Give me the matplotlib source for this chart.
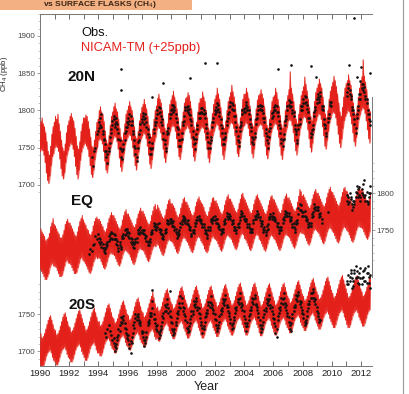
import numpy as np
import matplotlib
matplotlib.use('Agg')
import matplotlib.pyplot as plt
from matplotlib.patches import Rectangle
from matplotlib.lines import Line2D

nan = float('nan')

# ---------------- data (ppb) ----------------
model_start = 1990.0          # monthly values from Jan 1990
years_ticks = list(range(1990, 2013))

n20_hi = [1785,1790,1782,1778,1770,1758,1745,1740,1752,1768,1778,1784,
          1792,1788,1795,1782,1772,1760,1750,1745,1755,1770,1780,1786,
          1792,1796,1790,1786,1776,1765,1752,1748,1758,1772,1782,1790,
          1790,1794,1792,1785,1775,1764,1752,1750,1760,1772,1784,1788,
          1800,1805,1798,1795,1785,1772,1760,1755,1766,1780,1792,1798,
          1805,1810,1802,1798,1788,1776,1764,1760,1770,1782,1795,1800,
          1806,1812,1805,1800,1790,1778,1765,1762,1772,1786,1796,1804,
          1808,1815,1808,1802,1792,1780,1768,1764,1775,1788,1800,1806,
          1816,1822,1815,1810,1800,1788,1776,1772,1782,1796,1808,1814,
          1820,1826,1818,1812,1802,1790,1778,1775,1785,1798,1810,1816,
          1818,1824,1820,1812,1802,1790,1778,1774,1784,1798,1810,1816,
          1816,1825,1818,1812,1800,1790,1776,1772,1782,1796,1808,1815,
          1820,1830,1822,1815,1804,1792,1780,1776,1786,1800,1812,1818,
          1824,1834,1825,1818,1808,1795,1782,1778,1790,1802,1815,1822,
          1822,1830,1824,1816,1806,1794,1782,1778,1788,1802,1814,1820,
          1822,1828,1822,1816,1805,1792,1780,1776,1788,1800,1812,1818,
          1820,1830,1824,1815,1805,1793,1781,1776,1786,1800,1812,1820,
          1828,1852,1830,1822,1812,1800,1788,1782,1795,1808,1820,1826,
          1832,1845,1835,1826,1815,1804,1792,1786,1798,1812,1824,1830,
          1835,1842,1836,1830,1818,1806,1795,1790,1800,1815,1826,1832,
          1838,1846,1840,1832,1822,1810,1798,1792,1804,1818,1830,1836,
          1840,1848,1840,1834,1822,1810,1798,1794,1805,1818,1830,1838,
          1845,1868,1846,1838,1828,1815,1802,1798]
n20_lo = [1745,1748,1746,1740,1730,1716,1706,1702,1712,1726,1738,1742,
          1750,1752,1750,1745,1735,1722,1712,1708,1716,1730,1740,1746,
          1752,1756,1754,1748,1738,1725,1714,1708,1720,1733,1744,1750,
          1754,1756,1752,1748,1738,1726,1714,1710,1720,1734,1744,1750,
          1760,1762,1760,1755,1745,1732,1720,1716,1726,1740,1750,1756,
          1762,1766,1764,1758,1748,1736,1724,1718,1730,1742,1754,1760,
          1764,1768,1766,1760,1750,1738,1726,1720,1732,1744,1756,1762,
          1766,1770,1768,1762,1752,1740,1728,1722,1734,1746,1758,1764,
          1774,1778,1776,1770,1760,1748,1736,1730,1742,1754,1766,1772,
          1778,1780,1778,1772,1762,1750,1738,1734,1744,1756,1768,1774,
          1776,1780,1776,1770,1762,1750,1738,1732,1744,1756,1768,1772,
          1776,1778,1776,1770,1760,1748,1736,1730,1742,1756,1766,1772,
          1778,1782,1780,1774,1764,1752,1740,1734,1746,1758,1770,1776,
          1782,1784,1782,1776,1766,1754,1742,1738,1748,1762,1772,1778,
          1780,1784,1782,1776,1766,1754,1742,1736,1748,1760,1772,1778,
          1780,1782,1780,1775,1765,1752,1740,1735,1746,1760,1770,1776,
          1780,1783,1781,1774,1764,1752,1740,1734,1746,1760,1771,1777,
          1786,1788,1786,1780,1770,1758,1746,1740,1752,1766,1776,1782,
          1790,1792,1790,1784,1774,1762,1750,1744,1756,1770,1780,1786,
          1792,1796,1794,1788,1778,1766,1752,1748,1760,1772,1784,1790,
          1796,1798,1796,1790,1780,1768,1756,1750,1762,1776,1786,1792,
          1796,1800,1798,1792,1782,1770,1758,1752,1764,1776,1788,1794,
          1800,1804,1802,1796,1786,1774,1762,1756]

eq_hi = [1752,1748,1745,1742,1736,1738,1740,1746,1755,1760,1766,1758,
         1756,1752,1748,1745,1740,1740,1744,1750,1758,1762,1765,1760,
         1760,1756,1752,1748,1744,1742,1748,1755,1762,1766,1770,1764,
         1760,1757,1752,1750,1745,1744,1748,1756,1762,1766,1768,1765,
         1765,1762,1758,1755,1750,1748,1752,1760,1766,1770,1774,1770,
         1770,1766,1762,1758,1754,1752,1756,1764,1770,1775,1778,1772,
         1772,1768,1764,1760,1756,1754,1758,1766,1772,1776,1780,1775,
         1776,1772,1768,1764,1760,1758,1762,1770,1776,1782,1785,1778,
         1784,1780,1776,1772,1768,1766,1770,1778,1785,1790,1792,1786,
         1786,1783,1780,1775,1770,1768,1772,1780,1786,1792,1794,1788,
         1788,1784,1780,1776,1772,1770,1774,1782,1788,1792,1795,1790,
         1787,1785,1781,1775,1771,1769,1775,1781,1787,1793,1794,1789,
         1790,1786,1782,1778,1774,1772,1776,1784,1790,1795,1798,1792,
         1792,1788,1784,1780,1776,1774,1778,1786,1792,1798,1800,1794,
         1791,1787,1783,1779,1775,1773,1777,1785,1791,1796,1798,1793,
         1790,1786,1782,1778,1774,1772,1776,1784,1790,1795,1797,1792,
         1791,1787,1783,1779,1775,1773,1777,1785,1792,1796,1799,1793,
         1794,1790,1786,1782,1778,1776,1780,1788,1796,1805,1802,1796,
         1798,1794,1790,1786,1782,1780,1784,1792,1798,1802,1805,1800,
         1800,1796,1792,1788,1784,1782,1786,1794,1800,1805,1808,1802,
         1801,1797,1793,1789,1785,1783,1787,1795,1801,1806,1808,1803,
         1802,1798,1794,1790,1786,1784,1788,1796,1802,1806,1809,1804,
         1806,1802,1798,1794,1790,1788,1792,1800]
eq_lo = [1698,1695,1692,1688,1684,1684,1688,1692,1700,1704,1706,1702,
         1702,1700,1696,1692,1688,1688,1690,1696,1702,1708,1710,1706,
         1706,1704,1700,1696,1692,1692,1694,1700,1706,1712,1714,1710,
         1708,1705,1702,1698,1694,1692,1696,1702,1708,1712,1715,1712,
         1714,1712,1708,1704,1700,1698,1702,1708,1714,1718,1720,1718,
         1718,1716,1712,1708,1704,1702,1706,1712,1718,1722,1724,1722,
         1720,1718,1714,1710,1706,1704,1708,1714,1720,1724,1726,1724,
         1724,1722,1718,1714,1710,1708,1712,1718,1724,1728,1730,1728,
         1732,1730,1726,1722,1718,1716,1720,1726,1732,1736,1738,1736,
         1735,1733,1729,1725,1721,1719,1723,1729,1735,1739,1741,1739,
         1736,1734,1730,1726,1722,1720,1724,1730,1736,1740,1742,1740,
         1736,1733,1730,1725,1722,1720,1723,1730,1735,1740,1742,1739,
         1738,1736,1732,1728,1724,1722,1726,1732,1738,1742,1744,1742,
         1740,1738,1734,1730,1726,1724,1728,1734,1740,1744,1746,1744,
         1739,1737,1733,1729,1725,1723,1727,1733,1739,1743,1745,1743,
         1738,1736,1732,1728,1724,1722,1726,1732,1738,1742,1744,1742,
         1739,1737,1733,1729,1725,1723,1727,1733,1739,1743,1745,1743,
         1742,1740,1736,1732,1728,1726,1730,1736,1742,1746,1748,1746,
         1746,1744,1740,1736,1732,1730,1734,1740,1746,1750,1752,1750,
         1748,1746,1742,1738,1734,1732,1736,1742,1748,1752,1754,1752,
         1749,1747,1743,1739,1735,1733,1737,1743,1749,1753,1755,1753,
         1750,1748,1744,1740,1736,1734,1738,1744,1750,1754,1756,1754,
         1754,1752,1748,1744,1740,1738,1742,1748]

s20_hi = [1724,1718,1720,1724,1730,1736,1742,1746,1748,1742,1736,1730,
          1728,1722,1724,1728,1734,1740,1746,1750,1752,1746,1740,1734,
          1732,1726,1728,1732,1738,1744,1750,1754,1756,1750,1744,1738,
          1734,1728,1730,1734,1740,1746,1752,1756,1758,1752,1746,1740,
          1740,1734,1736,1740,1746,1752,1758,1762,1764,1758,1752,1746,
          1744,1738,1740,1744,1750,1756,1762,1766,1768,1762,1756,1750,
          1748,1742,1744,1748,1754,1760,1766,1770,1772,1766,1760,1754,
          1752,1746,1748,1752,1758,1764,1770,1774,1780,1772,1764,1758,
          1760,1754,1756,1760,1766,1772,1778,1782,1784,1778,1772,1766,
          1763,1757,1759,1763,1769,1775,1781,1785,1787,1781,1775,1769,
          1764,1758,1760,1764,1770,1776,1782,1786,1788,1782,1776,1770,
          1764,1758,1760,1764,1770,1776,1782,1786,1788,1782,1776,1770,
          1766,1760,1762,1766,1772,1778,1784,1788,1790,1784,1778,1772,
          1768,1762,1764,1768,1774,1780,1786,1790,1792,1786,1780,1774,
          1768,1762,1764,1768,1774,1780,1786,1790,1792,1786,1780,1774,
          1767,1761,1763,1767,1773,1779,1785,1789,1791,1785,1779,1773,
          1768,1762,1764,1768,1774,1780,1786,1790,1792,1786,1780,1774,
          1771,1765,1767,1771,1777,1783,1789,1793,1795,1789,1783,1777,
          1774,1768,1770,1774,1780,1786,1792,1796,1798,1792,1786,1780,
          1776,1770,1772,1776,1782,1788,1794,1798,1800,1794,1788,1782,
          1778,1772,1774,1778,1784,1790,1796,1800,1802,1796,1790,1784,
          1778,1772,1774,1778,1784,1790,1796,1800,1802,1796,1790,1784,
          1780,1774,1776,1780,1786,1792,1798,1802]
s20_lo = [1682,1678,1678,1682,1688,1694,1698,1700,1702,1698,1692,1688,
          1686,1682,1682,1686,1692,1698,1702,1704,1706,1702,1696,1692,
          1690,1686,1686,1690,1696,1702,1706,1708,1710,1706,1700,1696,
          1692,1688,1688,1692,1698,1704,1708,1710,1712,1708,1702,1698,
          1698,1694,1694,1698,1704,1710,1714,1716,1718,1714,1708,1704,
          1702,1698,1698,1702,1708,1714,1718,1720,1722,1718,1712,1708,
          1706,1702,1702,1706,1712,1718,1722,1724,1726,1722,1716,1712,
          1710,1706,1706,1710,1716,1722,1726,1728,1730,1726,1720,1716,
          1718,1714,1714,1718,1724,1730,1734,1736,1738,1734,1728,1724,
          1721,1717,1717,1721,1727,1733,1737,1739,1741,1737,1731,1727,
          1722,1718,1718,1722,1728,1734,1738,1740,1742,1738,1732,1728,
          1722,1718,1718,1722,1728,1734,1738,1740,1742,1738,1732,1728,
          1724,1720,1720,1724,1730,1736,1740,1742,1744,1740,1734,1730,
          1726,1722,1722,1726,1732,1738,1742,1744,1746,1742,1736,1732,
          1726,1722,1722,1726,1732,1738,1742,1744,1746,1742,1736,1732,
          1725,1721,1721,1725,1731,1737,1741,1743,1745,1741,1735,1731,
          1726,1722,1722,1726,1732,1738,1742,1744,1746,1742,1736,1732,
          1729,1725,1725,1729,1735,1741,1745,1747,1749,1745,1739,1735,
          1732,1728,1728,1732,1738,1744,1748,1750,1752,1748,1742,1738,
          1734,1730,1730,1734,1740,1746,1750,1752,1754,1750,1744,1740,
          1736,1732,1732,1736,1742,1748,1752,1754,1756,1752,1746,1742,
          1736,1732,1732,1736,1742,1748,1752,1754,1756,1752,1746,1742,
          1738,1734,1734,1738,1744,1750,1754,1756]

# observations: monthly values (two sets of stations per band)
obs_n20_start = 1993.5   # Jul 1993
obs_n20 = [1738,1725,1745,1750,1768,1772,
           1776,1790,1778,1772,1760,1755,1745,1730,1750,1756,1775,1780,
           1788,1782,1790,1775,1770,1750,1748,1735,1755,1760,1778,1785,
           1790,1786,1792,1780,1768,1760,1742,1738,1750,1768,1774,1788,
           1792,1788,1795,1778,1775,1758,1750,1742,1756,1770,1780,1790,
           1800,1796,1804,1792,1780,1770,1755,1750,1768,1776,1790,1795,
           1802,1808,1800,1790,1785,1768,1760,1752,1770,1780,1792,1800,
           1800,1806,1795,1794,1780,1772,1755,1756,1762,1780,1790,1796,
           1798,1804,1795,1790,1782,1765,1758,1750,1765,1778,1785,1795,
           1805,1800,1808,1792,1788,1770,1762,1755,1770,1780,1795,1798,
           1806,1810,1800,1800,1785,1778,1760,1758,1772,1785,1795,1802,
           1804,1808,1800,1795,1788,1772,1765,1755,1770,1782,1795,1800,
           1802,1806,1800,1796,1784,1775,1760,1756,1765,1782,1790,1798,
           1805,1800,1806,1792,1786,1770,1762,1752,1768,1780,1792,1800,
           1808,1812,1806,1800,1792,1780,1768,1760,1775,1788,1800,1806,
           1815,1810,1818,1802,1798,1785,1770,1768,1780,1792,1805,1810,
           1818,1815,1820,1806,1800,1788,1776,1770,1785,1795,1808,1812,
           nan,nan,nan,nan,nan,nan,nan,nan,nan,nan,nan,nan,
           1825,1830,1822,1815,1805,1795,1782,1776,1790,1800,1815,1822,
           1830,1835,1825,1820,1810,1800,1788,1780]
obs_n20b_start = 1994.0  # Jan 1994
obs_n20b = [1785,1780,1795,1768,1762,1745,1738,1742,1745,1765,1770,1786,
            1792,1778,1785,1782,1762,1760,1738,1745,1748,1770,1772,1778,
            1782,1795,1780,1786,1772,1752,1750,1732,1758,1760,1782,1784,
            1796,1782,1790,1785,1768,1765,1742,1748,1750,1775,1785,1784,
            1795,1805,1798,1785,1788,1762,1760,1745,1772,1770,1795,1800,
            1808,1798,1805,1795,1778,1775,1752,1760,1762,1785,1786,1805,
            1805,1798,1802,1788,1786,1765,1762,1748,1768,1775,1796,1790,
            1804,1796,1800,1796,1776,1770,1750,1756,1760,1784,1790,1800,
            1798,1810,1802,1798,1780,1776,1755,1762,1765,1786,1790,1805,
            1812,1802,1808,1792,1792,1772,1766,1752,1778,1780,1800,1798,
            1798,1812,1805,1800,1782,1778,1758,1762,1765,1788,1790,1806,
            1808,1800,1806,1790,1790,1770,1766,1750,1772,1776,1796,1792,
            1800,1808,1798,1798,1780,1776,1756,1760,1762,1786,1788,1806,
            1814,1805,1812,1796,1798,1775,1772,1756,1780,1782,1806,1800,
            1810,1820,1812,1808,1790,1790,1765,1774,1775,1798,1800,1815,
            1822,1812,1825,1802,1806,1782,1780,1766,1790,1790,1812,1806,
            nan,nan,nan,nan,nan,nan,nan,nan,nan,nan,nan,nan,
            1820,1835,1828,1820,1800,1800,1788,1770,1795,1806,1822,1815,
            1836,1828,1832,1815,1815,1795,1795,1786]
n20_extra_t = [1995.55,1995.55,1998.4,1997.7,2000.3,2001.3,2002.1,2006.3,
               2007.2,2008.6,2011.2,2012.0,2011.5,2012.6,2011.7,2008.9,2011.9]
n20_extra_v = [1856,1828,1837,1818,1844,1864,1864,1856,
               1861,1860,1861,1858,1924,1850,1845,1845,1840]

obs_eq_start = 1993.333  # May 1993
obs_eq = [1718,1725,1722,1730,1732,1742,1738,1745,
          1740,1732,1735,1726,1722,1725,1728,1735,1736,1745,1740,1746,
          1745,1738,1738,1730,1726,1730,1728,1740,1745,1744,1752,1748,
          1748,1740,1740,1732,1728,1732,1735,1740,1746,1752,1748,1750,
          1750,1745,1744,1736,1735,1730,1738,1745,1750,1756,1752,1755,
          1758,1752,1752,1745,1740,1742,1746,1752,1760,1758,1765,1762,
          1760,1756,1755,1748,1745,1742,1750,1755,1762,1765,1762,1766,
          1762,1758,1756,1750,1745,1748,1750,1756,1760,1768,1765,1766,
          1760,1758,1755,1750,1746,1744,1750,1755,1762,1765,1768,1764,
          1765,1760,1758,1752,1750,1748,1752,1758,1765,1770,1768,1768,
          1766,1762,1760,1755,1750,1750,1755,1760,1768,1772,1770,1770,
          1765,1762,1758,1755,1752,1748,1752,1760,1766,1770,1772,1768,
          1764,1760,1758,1752,1750,1748,1750,1758,1765,1768,1770,1768,
          1768,1762,1760,1755,1750,1750,1755,1760,1768,1772,1775,1770,
          1770,1766,1764,1758,1755,1752,1758,1764,1772,1785,1778,1775,
          1775,1770,1768,1762,1758,1756,1760,1768,1775,1780,1782,1778,
          1778,1772,1770,1765,nan,nan,nan,nan,1775,nan,nan,nan,
          nan,nan,nan,nan,nan,nan,nan,nan,nan,nan,nan,nan,
          1790,1795,1788,1792,1785,1782,1790,1795,1800,1805,1798,1795,
          1800,1812,1795,1798,1790,1788,1795,1800]
obs_eqb_start = 1994.0   # Jan 1994
obs_eqb = [1735,1738,1728,1732,1726,1720,1732,1730,1742,1738,1748,1738,
           1738,1744,1732,1736,1722,1734,1725,1742,1740,1750,1745,1752,
           1742,1746,1735,1738,1734,1726,1738,1735,1750,1745,1755,1746,
           1746,1750,1740,1742,1730,1736,1734,1748,1746,1760,1758,1750,
           1755,1760,1748,1750,1745,1738,1750,1748,1764,1762,1760,1766,
           1756,1762,1750,1752,1740,1748,1745,1760,1758,1770,1768,1760,
           1758,1764,1752,1754,1742,1750,1746,1760,1764,1764,1770,1762,
           1764,1755,1758,1746,1750,1740,1754,1750,1766,1760,1764,1770,
           1760,1766,1754,1756,1745,1752,1748,1762,1760,1774,1765,1772,
           1770,1758,1764,1750,1755,1746,1758,1755,1764,1776,1774,1766,
           1762,1766,1755,1758,1748,1752,1748,1764,1770,1766,1776,1772,
           1768,1756,1762,1748,1754,1744,1756,1752,1768,1772,1766,1774,
           1764,1766,1756,1760,1746,1754,1750,1766,1764,1776,1770,1774,
           1774,1762,1768,1754,1760,1748,1762,1760,1780,1778,1784,1770,
           1770,1776,1764,1766,1754,1760,1756,1772,1770,1786,1778,1782,
           1782,1768,1774,1760,nan,nan,nan,nan,nan,nan,nan,nan,
           nan,nan,nan,nan,nan,nan,nan,nan,nan,nan,nan,nan,
           1798,1785,1800,1795,1778,1790,1785,1802,1810,1795,1808,1790,
           1805,1798,1818,1790,1802,1785,1800,1810]

obs_s20_start = 1994.417  # Jun 1994
obs_s20 = [1725,1720,1730,1735,1728,1722,1715,
           1712,1700,1710,1715,1722,1735,1740,1745,1742,1738,1725,1718,
           1715,1705,1698,1712,1725,1740,1745,1748,1750,1742,1735,1725,
           1720,1708,1712,1720,1735,1742,1748,1752,1768,1750,1738,1730,
           1728,1718,1722,1730,1740,1752,1755,1760,1764,1758,1748,1740,
           1730,1722,1725,1735,1745,1755,1760,1775,1765,1760,1750,1742,
           1732,1726,1728,1738,1748,1755,1762,1764,1768,1760,1752,1745,
           1735,1725,1730,1740,1748,1756,1762,1766,1765,1762,1752,1744,
           1736,1728,1732,1740,1750,1758,1765,1768,1770,1762,1755,1748,
           1738,1730,1732,1742,1752,1760,1766,1770,1772,1765,1756,1748,
           1738,1728,1734,1742,1750,1760,1766,1770,1772,1764,1756,1746,
           1736,1726,1730,1740,1750,1758,1765,1768,1770,1762,1755,1745,
           1738,1725,1720,1742,1752,1760,1765,1770,1772,1765,1756,1748,
           1740,1730,1728,1745,1755,1762,1770,1774,1776,1768,1760,1752,
           1745,1735,1738,1748,1758,1768,1772,1778,1780,1772,1764,1755,
           1748,1740,1742,nan,nan,nan,nan,nan,nan,nan,nan,nan,
           nan,nan,nan,nan,nan,nan,nan,nan,nan,nan,nan,nan,
           1795,1790,1800,1805,1785,1795,1810,1815,1800,1792,1805,1798,
           1790,1800,1810,1795,1805,1815,1800,1785]
obs_s20b_start = 1995.0  # Jan 1995
obs_s20b = [1718,1708,1705,1720,1730,1728,1746,1738,1748,1732,1730,1722,
            1722,1710,1714,1720,1735,1732,1750,1742,1746,1738,1740,1728,
            1726,1715,1716,1726,1740,1738,1752,1748,1758,1744,1744,1734,
            1735,1725,1728,1734,1748,1745,1762,1755,1770,1752,1755,1746,
            1738,1728,1730,1740,1752,1750,1765,1758,1772,1755,1758,1748,
            1740,1730,1734,1744,1754,1750,1768,1760,1772,1756,1758,1750,
            1740,1732,1734,1746,1752,1752,1766,1760,1774,1758,1756,1750,
            1742,1732,1736,1748,1756,1754,1770,1762,1776,1760,1760,1752,
            1744,1735,1738,1746,1758,1756,1770,1764,1778,1760,1762,1754,
            1744,1734,1738,1748,1756,1756,1772,1764,1776,1762,1760,1752,
            1742,1732,1736,1746,1756,1754,1770,1762,1776,1758,1760,1750,
            1744,1734,1730,1748,1758,1756,1772,1764,1778,1760,1762,1752,
            1746,1736,1738,1750,1760,1760,1776,1768,1780,1764,1766,1756,
            1750,1740,1742,1754,1764,1764,1778,1772,1784,1768,1770,1760,
            1752,1744,nan,nan,nan,nan,nan,nan,nan,nan,nan,nan,
            nan,nan,nan,nan,nan,nan,nan,nan,nan,nan,nan,nan,
            1790,1802,1795,1810,1798,1788,1805,1798,1808,1800,1790,1812,
            1798,1808,1795,1812,1792,1806,1792,1802]
s20_extra_t = [1997.7, 1998.9]
s20_extra_v = [1782, 1781]

# ---------------- layout ----------------
W, H = 410, 394
fig = plt.figure(figsize=(W / 100, H / 100), dpi=100)
plt.rcParams['font.family'] = ['Liberation Sans', 'DejaVu Sans']

L, R, T, B = 40, 372, 13.5, 366
ax = fig.add_axes([L / W, 1 - B / H, (R - L) / W, (B - T) / H])
ylo, yhi = 1457.0, 1930.2
ax.set_xlim(1990, 2012.75)
ax.set_ylim(ylo, yhi)

OFF_EQ = -111.0
OFF_S20 = -223.5

RED = '#e3201a'
FILL = '#f2786c'


def months(start, n):
    return start + (np.arange(n) + 0.5) / 12.0


def draw_model(hi, lo, off):
    hi = np.asarray(hi, float) + off
    lo = np.asarray(lo, float) + off
    t = months(model_start, len(hi))
    ax.fill_between(t, lo, hi, color=FILL, lw=0, alpha=0.8, zorder=2)
    xs = np.empty(2 * len(t))
    ys = np.empty(2 * len(t))
    xs[0::2] = t - 1 / 48
    xs[1::2] = t + 1 / 48
    ys[0::2] = lo
    ys[1::2] = hi
    ax.plot(xs, ys, color=RED, lw=0.7, zorder=3)


def draw_obs(start, vals, off):
    v = np.asarray(vals, float) + off
    t = months(start, len(v))
    ax.plot(t, v, 'o', ms=1.9, color='#111111', mew=0, zorder=4)


def draw_extra(et, ev, off):
    ax.plot(et, np.asarray(ev, float) + off, 'o', ms=1.9,
            color='#111111', mew=0, zorder=4)


draw_model(n20_hi, n20_lo, 0.0)
draw_model(eq_hi, eq_lo, OFF_EQ)
draw_model(s20_hi, s20_lo, OFF_S20)
draw_obs(obs_n20_start, obs_n20, 0.0)
draw_obs(obs_n20b_start, obs_n20b, 0.0)
draw_extra(n20_extra_t, n20_extra_v, 0.0)
draw_obs(obs_eq_start, obs_eq, OFF_EQ)
draw_obs(obs_eqb_start, obs_eqb, OFF_EQ)
draw_obs(obs_s20_start, obs_s20, OFF_S20)
draw_obs(obs_s20b_start, obs_s20b, OFF_S20)
draw_extra(s20_extra_t, s20_extra_v, OFF_S20)

# x axis
ax.set_xticks(years_ticks)
ax.set_xticklabels([str(y) if y % 2 == 0 else '' for y in years_ticks])
ax.tick_params(axis='x', which='major', direction='in', top=True, bottom=True,
               length=3.5, width=0.6, labelsize=6.8, pad=2.5,
               colors='#555555', labelcolor='#222222')
ax.set_xlabel('Year', fontsize=9, labelpad=2, color='#222222')

# left y axis (20N and 20S)
left_major_vals = [1700, 1750, 1800, 1850, 1900]
left_major_pos = [v for v in left_major_vals] + [1700 + OFF_S20, 1750 + OFF_S20]
left_major_lab = [str(v) for v in left_major_vals] + ['1700', '1750']
left_minor_pos = [v for v in range(1690, 1931, 10)] + \
                 [v + OFF_S20 for v in range(1690, 1791, 10)]
ax.set_yticks(left_major_pos)
ax.set_yticklabels(left_major_lab)
ax.set_yticks(left_minor_pos, minor=True)
ax.tick_params(axis='y', which='major', direction='out', length=2.5, width=0.5,
               labelsize=5.8, pad=1, colors='#777777', labelcolor='#444444')
ax.tick_params(axis='y', which='minor', direction='out', length=1.5, width=0.4,
               colors='#999999')
ax.tick_params(axis='x', which='minor', bottom=False, top=False)
for s in ['left', 'top', 'bottom']:
    ax.spines[s].set_color('#777777')
    ax.spines[s].set_linewidth(0.7)
ax.spines['right'].set_visible(False)

# right y axis (EQ)
ax2 = ax.twinx()
ax2.set_ylim(ylo, yhi)
ax2.set_yticks([1750 + OFF_EQ, 1800 + OFF_EQ])
ax2.set_yticklabels(['1750', '1800'])
ax2.set_yticks([v + OFF_EQ for v in range(1710, 1841, 10)], minor=True)
ax2.tick_params(axis='y', which='major', direction='out', length=2.5, width=0.5,
                labelsize=5.8, pad=1, colors='#777777', labelcolor='#444444')
ax2.tick_params(axis='y', which='minor', direction='out', length=1.5, width=0.4,
                colors='#999999')
for s in ['left', 'top', 'bottom']:
    ax2.spines[s].set_visible(False)
ax2.spines['right'].set_color('#777777')
ax2.spines['right'].set_linewidth(0.7)
ax2.spines['right'].set_bounds(1576, 1818)


def px(x, y):
    return x / W, 1 - y / H


# panel labels
for lab, (x, y) in [('20N', (82, 77)), ('EQ', (82, 201)), ('20S', (82, 305))]:
    fig.text(*px(x, y), lab, fontsize=11, fontweight='bold', ha='center',
             va='center', color='#111111')

# legend text
fig.text(*px(81, 33), 'Obs.', fontsize=9.3, ha='left', va='center', color='#111111')
fig.text(*px(81, 48), 'NICAM-TM (+25ppb)', fontsize=9.3, ha='left', va='center',
         color=RED)

# axis label squeezed at the left edge
fig.text(*px(5, 74), 'CH$_4$ (ppb)', fontsize=5.5, ha='center', va='center',
         rotation=90, color='#222222')

# header banner at the top
fig.patches.append(Rectangle((0, 1 - 9.5 / H), 192 / W, 9.5 / H,
                             transform=fig.transFigure, facecolor='#f2b083',
                             edgecolor='none', zorder=0))
fig.text(*px(100, 4.8), 'vs SURFACE FLASKS (CH$_4$)', fontsize=6,
         fontweight='bold', ha='center', va='center', color='#3a2414')

# frame line on the right
fig.add_artist(Line2D([403 / W, 403 / W], [0, 1], transform=fig.transFigure,
                      color='#999999', lw=0.8))

fig.savefig('out.png', dpi=100)
